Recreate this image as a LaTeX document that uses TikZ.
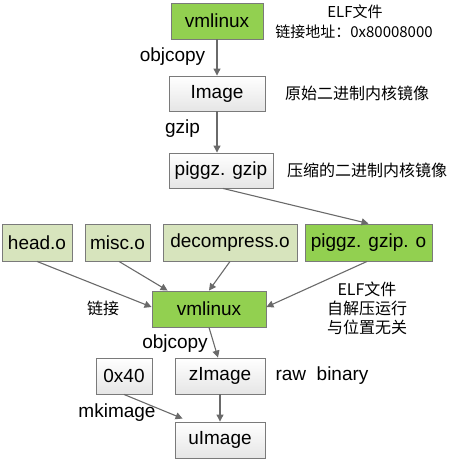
\documentclass[tikz,border=0pt]{standalone}
\usepackage{fontspec}
\setmainfont{Liberation Sans}
\newfontfamily\cjk{Noto Sans CJK SC}
\usetikzlibrary{arrows.meta,calc}
\definecolor{dgreen}{HTML}{92D050}
\definecolor{lgreen}{HTML}{D7E4BD}
\definecolor{bordc}{HTML}{7A7A7A}
\definecolor{arrc}{HTML}{6A6A6A}
\begin{document}
\begin{tikzpicture}[x=1pt,y=-1pt,
  box/.style={draw=bordc,line width=0.9pt,inner sep=0pt,minimum height=36pt,font=\fontsize{19}{21}\selectfont,anchor=center},
  greybox/.style={box,top color=white,bottom color=black!10},
  gbox/.style={box,fill=dgreen},
  lbox/.style={box,fill=lgreen},
  lab/.style={font=\fontsize{19}{21}\selectfont,inner sep=0pt,anchor=center},
  clab/.style={font=\cjk\fontsize{15}{20}\selectfont,inner sep=0pt,anchor=center,align=center},
  arr/.style={draw=arrc,line width=1.1pt,-{Triangle[length=7pt,width=7pt]}}]
\useasboundingbox (0,0) rectangle (458,460);
% boxes
\node[gbox,minimum width=92pt] (vm1) at (217,21) {vmlinux};
\node[greybox,minimum width=96pt,minimum height=35pt] (img) at (217,93.5) {Image};
\node[greybox,minimum width=104pt,minimum height=35pt] (pg) at (221,170.5) {piggz. gzip};
\node[lbox,minimum width=70pt,minimum height=37pt] (head) at (37,242.5) {head.o};
\node[lbox,minimum width=65pt,minimum height=37pt] (misc) at (117.5,242.5) {misc.o};
\node[lbox,minimum width=134pt,minimum height=37pt] (dec) at (230,242.5) {decompress.o};
\node[gbox,minimum width=127pt,minimum height=37pt] (pgo) at (368.5,242.5) {piggz. gzip. o};
\node[gbox,minimum width=114pt] (vm2) at (209,309) {vmlinux};
\node[greybox,minimum width=56pt] (hx) at (124,376) {0x40};
\node[greybox,minimum width=90pt] (zi) at (220,376) {zImage};
\node[greybox,minimum width=90pt] (ui) at (220,440) {uImage};
% connectors
\draw[arr] (vm1) -- (img);
\draw[arr] (img.south) -- (img.south |- pg.north);
\draw[arr] ($(pg.south)+(2,0)$) -- (pgo.north);
\draw[arr] (head.south) -- ($(vm2.west)+(0,-2)$);
\draw[arr] ($(misc.south)+(1.5,0)$) -- ($(vm2.north west)+(16,0)$);
\draw[arr] (dec.south) -- (vm2.north);
\draw[arr] ($(pgo.south)+(-1.5,0)$) -- ($(vm2.east)+(0,-2)$);
\draw[arr] (vm2.south) -- ($(zi.north)+(-2,0)$);
\draw[arr] (zi.south) -- (ui.north);
\draw[arr] (hx.south) -- ($(ui.north west)+(8,-3)$);
% labels
\node[lab] (l1) at (172.5,57) {objcopy};
\node[lab] (l2) at (182.5,129) {gzip};
\node[clab] (t1) at (355,12) {ELF文件};
\node[clab] (t2) at (354,32) {链接地址：0x80008000};
\node[clab,font=\cjk\fontsize{16}{20}\selectfont] (t3) at (357,93) {原始二进制内核镜像};
\node[clab,font=\cjk\fontsize{16}{20}\selectfont] (t4) at (367,170) {压缩的二进制内核镜像};
\node[clab,font=\cjk\fontsize{16}{20}\selectfont] (t5) at (103,308) {链接};
\node[clab,font=\cjk\fontsize{16}{20}\selectfont] (t6) at (367,308) {ELF文件\\[-1pt]自解压运行\\[-1pt]与位置无关};
\node[lab] (l3) at (175,344) {objcopy};
\node[lab] (l4) at (322,376) {raw\ \ binary};
\node[lab] (l5) at (117,413) {mkimage};
\end{tikzpicture}
\end{document}
